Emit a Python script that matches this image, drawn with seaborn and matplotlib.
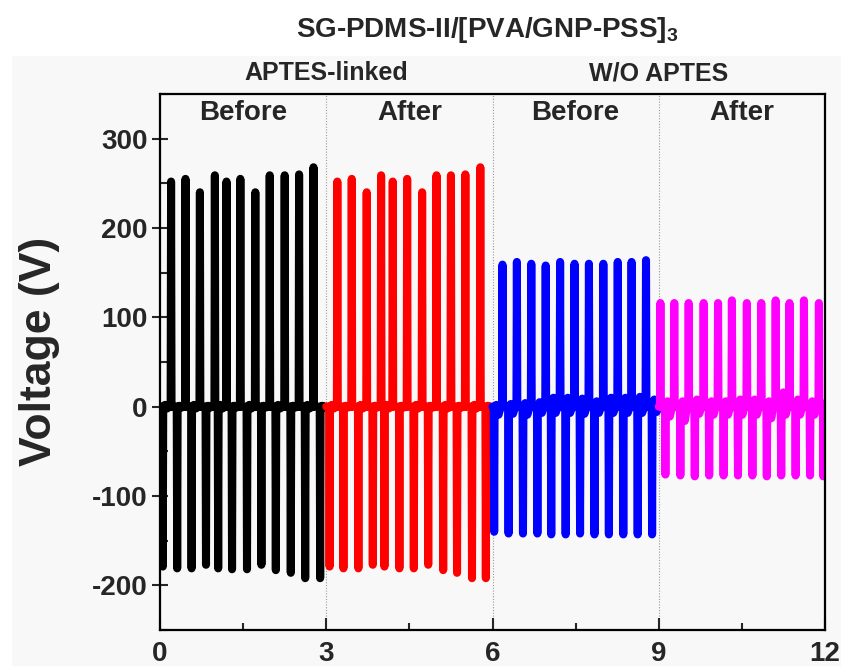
import matplotlib
matplotlib.use("Agg")
import matplotlib.pyplot as plt
from matplotlib.patches import Rectangle
from matplotlib.ticker import MultipleLocator
import seaborn as sns
import pandas as pd

# ---------------- data ----------------
title = "SG-PDMS-II/[PVA/GNP-PSS]$_3$"
ylabel = "Voltage (V)"
xticks = [0, 3, 6, 9, 12]
yticks = [-200, -100, 0, 100, 200, 300]
segment_names = ["APTES Before", "APTES After", "W/O Before", "W/O After"]
segment_bounds = [(0.0, 2.97), (3.0, 5.97), (6.0, 8.97), (9.0, 12.0)]
segment_colors = ["#000000", "#ff0000", "#0000ff", "#ff00ff"]
phase_labels = ["Before", "After", "Before", "After"]
phase_x = [1.5, 4.5, 7.5, 10.5]
group_labels = ["APTES-linked", "W/O APTES"]
group_x = [3, 9]

black_pos_t = [0.20, 0.46, 0.72, 0.99, 1.20, 1.45, 1.72, 1.98, 2.25, 2.51, 2.77]
black_pos_v = [252, 255, 240, 259, 252, 255, 240, 259, 259, 260, 268]
black_neg_t = [0.05, 0.31, 0.57, 0.83, 1.05, 1.30, 1.57, 1.83, 2.09, 2.36, 2.62, 2.89]
black_neg_v = [-179, -181, -181, -177, -181, -182, -182, -177, -183, -186, -192, -192]
black_over = [2, 1, 2, 1, 2, 1, 2, 1, 2, 1, 2, 1]
black_under = [-2, -1, -2, -1, -2, -1, -2, -1, -2, -1, -2, -1]

red_pos_t = [3.20, 3.46, 3.73, 3.99, 4.20, 4.46, 4.73, 4.99, 5.25, 5.51, 5.78]
red_pos_v = [252, 255, 240, 259, 252, 255, 240, 259, 259, 260, 268]
red_neg_t = [3.06, 3.31, 3.58, 3.84, 4.05, 4.32, 4.58, 4.84, 5.11, 5.36, 5.63, 5.88]
red_neg_v = [-179, -181, -181, -177, -179, -181, -181, -177, -183, -186, -192, -192]
red_over = [2, 1, 2, 1, 2, 1, 2, 1, 2, 1, 2, 1]
red_under = [-2, -1, -2, -1, -2, -1, -2, -1, -2, -1, -2, -1]

blue_pos_t = [6.18, 6.44, 6.70, 6.96, 7.22, 7.48, 7.74, 8.00, 8.26, 8.51, 8.77]
blue_pos_v = [159, 162, 160, 158, 162, 160, 160, 160, 162, 162, 164]
blue_neg_t = [6.03, 6.29, 6.55, 6.81, 7.06, 7.32, 7.58, 7.84, 8.10, 8.36, 8.62, 8.88]
blue_neg_v = [-140, -142, -142, -142, -143, -143, -142, -143, -143, -143, -143, -143]
blue_over = [2, 3, 4, 5, 10, 10, 9, 6, 10, 10, 11, 8]
blue_under = [-9, -8, -9, -7, -7, -7, -8, -7, -7, -7, -7, -6]

mag_pos_t = [9.03, 9.28, 9.54, 9.81, 10.07, 10.32, 10.59, 10.85, 11.11, 11.36, 11.62, 11.89]
mag_pos_v = [116, 116, 116, 116, 116, 119, 116, 116, 119, 116, 119, 116]
mag_neg_t = [9.12, 9.39, 9.65, 9.91, 10.17, 10.43, 10.69, 10.95, 11.21, 11.47, 11.73, 11.97]
mag_neg_v = [-76, -77, -78, -77, -77, -77, -77, -78, -77, -77, -77, -78]
mag_over = [6, 6, 8, 6, 6, 8, 8, 6, 16, 8, 6, 4]
mag_under = [-11, -16, -8, -9, -9, -9, -9, -13, -9, -9, -9, -5]

segments = [
    (black_pos_t, black_pos_v, black_neg_t, black_neg_v, black_over, black_under),
    (red_pos_t, red_pos_v, red_neg_t, red_neg_v, red_over, red_under),
    (blue_pos_t, blue_pos_v, blue_neg_t, blue_neg_v, blue_over, blue_under),
    (mag_pos_t, mag_pos_v, mag_neg_t, mag_neg_v, mag_over, mag_under),
]

# ---------------- build trace table ----------------
W = 0.008
rows = []
for name, (t0, t1), (pt, pv, nt, nv, ov, un) in zip(segment_names, segment_bounds, segments):
    events = [(t, v, None, None) for t, v in zip(pt, pv)]
    events += [(t, v, o, u) for t, v, o, u in zip(nt, nv, ov, un)]
    events.sort(key=lambda e: e[0])
    pts = [(t0, 0)]
    for t, v, o, u in events:
        pts += [(t - W, 0), (t, v), (t + W, 0)]
        if o is not None:
            pts += [(t + 0.04, o), (t + 0.08, u), (t + 0.12, 0)]
    pts.append((t1, 0))
    for x, y in pts:
        rows.append({"t": x, "V": y, "seg": name})
df = pd.DataFrame(rows)

# ---------------- style ----------------
sns.set_theme(style="ticks")
plt.rcParams["font.family"] = ["Liberation Sans", "DejaVu Sans"]
plt.rcParams["font.weight"] = "bold"
plt.rcParams["axes.unicode_minus"] = False
plt.rcParams["mathtext.fontset"] = "custom"
plt.rcParams["mathtext.rm"] = "Liberation Sans:bold"
plt.rcParams["mathtext.it"] = "Liberation Sans:bold"
plt.rcParams["mathtext.bf"] = "Liberation Sans:bold"

bg = "#f8f8f8"
fig = plt.figure(figsize=(8.41, 6.66), dpi=100, facecolor="white")
fig.add_artist(Rectangle((12 / 841, 0), 1, 1 - 56 / 666, transform=fig.transFigure,
                         facecolor=bg, edgecolor="none", zorder=-10))
ax = fig.add_axes([160 / 841, 1 - 630 / 666, 665 / 841, 536 / 666])
ax.set_facecolor(bg)

for xv in [3, 6, 9]:
    ax.axvline(xv, color="#9a9a9a", lw=0.8, ls=(0, (1, 1.5)), zorder=0)

sns.lineplot(data=df, x="t", y="V", hue="seg", hue_order=segment_names,
             palette=segment_colors, sort=False, estimator=None, legend=False,
             linewidth=5.8, solid_capstyle="round", solid_joinstyle="round", ax=ax)

ax.set_xlim(0, 12)
ax.set_ylim(-250, 350)
ax.set_xticks(xticks)
ax.set_yticks(yticks)
ax.xaxis.set_minor_locator(MultipleLocator(1.5))
ax.yaxis.set_minor_locator(MultipleLocator(50))
ax.tick_params(axis="x", which="major", direction="in", length=8.6, width=1.5,
               labelsize=20, pad=8)
ax.tick_params(axis="x", which="minor", direction="in", length=5, width=1.5)
ax.tick_params(axis="y", which="major", direction="inout", length=11.5, width=1.5,
               labelsize=20, pad=3)
ax.tick_params(axis="y", which="minor", direction="in", length=6, width=1.5)
for lab in ax.get_xticklabels() + ax.get_yticklabels():
    lab.set_fontweight("bold")
for sp in ax.spines.values():
    sp.set_linewidth(1.6)
    sp.set_color("black")

ax.set_xlabel("")
ax.set_ylabel(ylabel, fontsize=32, fontweight="bold")
ax.yaxis.set_label_coords(-0.15, 0.52)

for lab, xv in zip(phase_labels, phase_x):
    ax.text(xv, 329, lab, ha="center", va="center", fontsize=20, fontweight="bold")
for lab, xv in zip(group_labels, group_x):
    ax.text(xv, 373, lab, ha="center", va="center", fontsize=18, fontweight="bold",
            clip_on=False)

fig.text(0.579, 0.955, title, ha="center", va="center", fontsize=20, fontweight="bold")

fig.savefig("out.png", dpi=100, facecolor="white")
